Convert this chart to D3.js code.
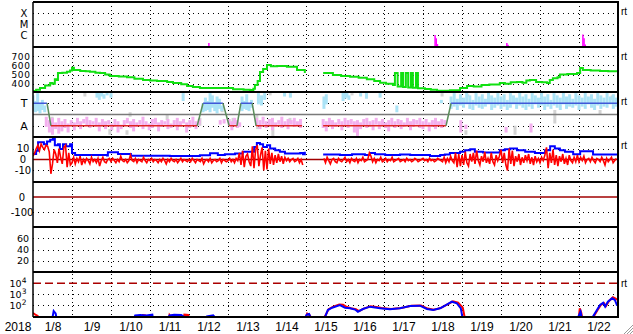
<!DOCTYPE html>
<html>
<head>
<meta charset="utf-8">
<title>Space weather overview</title>
<script src="https://cdn.jsdelivr.net/npm/d3@7"></script>
<style>
    body { margin: 0; background: #fff; }
    svg { display: block; font-family: "Liberation Sans", Arial, Helvetica, sans-serif; }
</style>
</head>
<body>
<svg id="chart" width="633" height="334"></svg>
<script>
// Time is given in days of January 2018 (8.5 = 1/8 12:00 UT)

// Tick labels
const dateLabels = ["1/8", "1/9", "1/10", "1/11", "1/12", "1/13", "1/14", "1/15",
    "1/16", "1/17", "1/18", "1/19", "1/20", "1/21", "1/22"];
const yearLabel = "2018";
const flareTicks = [1e-4, 1e-5, 1e-6];
const flareLabels = ["X", "M", "C"];
const speedTicks = [700, 600, 500, 400];
const sectorTicks = [1, -1];
const sectorLabels = ["T", "A"];
const bzTicks = [10, 0, -10];
const dstTicks = [0, -100];
const kpTicks = [60, 40, 20];
const fluxTicks = [1e4, 1e3, 1e2];

// X-ray flares: time, peak flux (W/m2)
const flareDays = [12.51, 18.31, 18.34, 18.37, 20.15, 20.18, 22.10, 22.13, 22.16];
const flareFlux = [1.9e-7, 1.0e-6, 5e-7, 1.5e-7, 1.9e-7, 1.3e-7, 1.1e-6, 5e-7, 1.4e-7];

// Solar wind speed (km/s)
const windSpeed = [
    [8.00, 320], [8.08, 335], [8.18, 354], [8.31, 380], [8.44, 408], [8.50, 400], [8.56, 450],
    [8.60, 440], [8.64, 517], [8.75, 520], [8.87, 530], [8.95, 545], [9.00, 575], [9.05, 550],
    [9.21, 540], [9.35, 535], [9.46, 530], [9.60, 520], [9.72, 517], [9.85, 500], [9.97, 485],
    [10.20, 478], [10.41, 470], [10.60, 455], [10.82, 440], [11.00, 435], [11.18, 430],
    [11.44, 420], [11.59, 408], [11.80, 395], [11.95, 375], [12.10, 365], [12.28, 354],
    [12.72, 354], [13.13, 340], [13.40, 335], [13.56, 332], [13.65, 345], [13.69, 386],
    [13.76, 430], [13.82, 528], [13.90, 560], [14.00, 604], [14.10, 590], [14.26, 593],
    [14.51, 585], [14.77, 550], [14.97, 517], [14.98, null],
    [15.44, 517], [15.69, 495], [15.90, 485], [16.13, 477], [16.35, 465], [16.56, 450],
    [16.75, 430], [16.90, 411], [17.05, 400], [17.23, 386], [17.28, 386], [17.28, 517],
    [17.35, 517], [17.35, 370], [17.44, 370], [17.44, 517], [17.49, 517], [17.49, 365],
    [17.56, 365], [17.56, 517], [17.62, 517], [17.62, 360], [17.69, 360], [17.69, 517],
    [17.74, 517], [17.74, 355], [17.82, 355], [17.82, 517], [17.87, 517], [17.87, 350],
    [17.92, 350], [18.05, 343], [18.20, 335], [18.36, 324], [18.69, 328], [18.95, 354],
    [19.13, 375], [19.30, 370], [19.50, 385], [19.70, 392], [19.97, 408], [20.10, 400],
    [20.25, 415], [20.41, 420], [20.55, 410], [20.65, 435], [20.74, 440], [20.90, 420],
    [21.05, 415], [21.18, 408], [21.25, 440], [21.33, 460], [21.45, 470], [21.51, 500],
    [21.70, 505], [21.95, 517], [22.03, 570], [22.10, 550], [22.30, 545], [22.54, 540],
    [22.75, 535], [22.97, 530]
];

// IMF sector: +1 toward, -1 away (null = no data)
const sectorLine = [
    [8.00, 1], [8.36, 1], [8.46, -1], [12.21, -1], [12.36, 1], [12.87, 1], [13.03, -1],
    [13.23, -1], [13.33, 1], [13.62, 1], [13.72, -1], [14.90, -1], null,
    [15.44, -1], [18.59, -1], [18.72, 1], [23.00, 1]
];

// IMF phi samples, grouped in short runs: [day, top, bottom] in sector units
const phiToward = [
    [8.00, 1.7, 0.3], [8.06, 1.2, 0.2], [8.12, 1.9, 0.3], [8.18, 1.0, 0.1], [8.24, 1.3, 0.4],
    [8.30, 0.8, 0.2], [9.64, 2.0, 1.5], [9.70, 1.9, 1.3], [9.76, 2.0, 1.6], [9.82, 1.8, 1.4],
    [9.90, 2.0, 1.7], [10.00, 1.9, 1.5], [11.85, 1.9, 1.2],
    [12.36, 1.0, 0.2], [12.42, 1.5, 0.3], [12.48, 1.2, 0.4], [12.54, 1.9, 0.2], [12.60, 1.7, 0.6],
    [12.66, 1.1, 0.3], [12.72, 1.6, 0.1], [12.78, 1.4, 0.5], [12.84, 0.8, 0.3],
    [13.36, 1.6, 0.3], [13.42, 1.2, 0.5], [13.48, 1.8, 0.4], [13.54, 1.0, 0.3], [13.60, 1.3, 0.6],
    [13.78, 1.9, 0.9], [13.86, 1.7, 0.8], [13.94, 1.9, 1.3], [14.45, 2.0, 1.6], [14.60, 1.9, 1.5],
    [15.46, 1.6, 0.5], [15.52, 1.8, 0.9], [15.95, 2.0, 1.2], [16.00, 1.9, 1.4], [16.05, 2.0, 1.5],
    [16.10, 1.7, 1.3], [16.40, 1.9, 1.6], [16.55, 2.0, 1.4], [16.90, 1.9, 1.5], [17.33, 0.8, 0.2],
    [18.47, 1.3, 1.0],
    [18.72, 1.6, 0.5], [18.80, 1.9, 0.7], [18.88, 1.4, 0.4], [18.96, 1.8, 0.8], [19.04, 1.5, 0.6],
    [19.12, 2.0, 0.9], [19.20, 1.7, 0.5], [19.28, 1.3, 0.4], [19.36, 1.9, 0.8], [19.44, 1.6, 0.6],
    [19.52, 1.8, 0.5], [19.60, 1.4, 0.7], [19.68, 2.0, 0.9], [19.76, 1.7, 0.4], [19.84, 1.5, 0.6],
    [19.92, 1.9, 0.8], [20.00, 1.6, 0.5], [20.08, 1.8, 0.7], [20.16, 1.3, 0.4], [20.24, 1.9, 0.6],
    [20.32, 1.7, 0.9], [20.40, 1.5, 0.5], [20.48, 2.0, 0.8], [20.56, 1.6, 0.6], [20.64, 1.8, 0.4],
    [20.72, 1.4, 0.7], [20.80, 1.9, 0.5], [20.88, 1.7, 0.9], [20.96, 1.5, 0.6], [21.04, 2.0, 0.8],
    [21.12, 1.6, 0.4], [21.20, 1.8, 0.7], [21.28, 1.3, 0.5], [21.36, 1.9, 0.8], [21.44, 1.7, 0.6],
    [21.52, 1.5, 0.4], [21.60, 2.0, 0.9], [21.68, 1.6, 0.5], [21.76, 1.8, 0.7], [21.84, 1.4, 0.6],
    [21.92, 1.9, 0.8], [22.00, 1.7, 0.4], [22.08, 1.5, 0.7], [22.16, 2.0, 0.5], [22.24, 1.6, 0.9],
    [22.32, 1.8, 0.6], [22.40, 1.4, 0.4], [22.48, 1.9, 0.8], [22.56, 1.7, 0.5], [22.64, 1.5, 0.7],
    [22.72, 2.0, 0.6], [22.80, 1.6, 0.9], [22.88, 1.8, 0.5], [22.96, 1.5, 0.7]
];
const phiAway = [
    [8.34, -0.2, -1.1], [8.42, -0.5, -1.6], [8.50, -0.3, -1.8], [8.58, -0.7, -1.3], [8.66, -0.3, -1.7],
    [8.74, -0.6, -1.5], [8.82, -0.4, -1.2], [8.90, -0.8, -1.6], [8.98, -0.5, -1.0], [9.06, -0.7, -1.4],
    [9.14, -0.3, -0.9], [9.22, -0.6, -1.3], [9.30, -0.4, -0.8], [9.38, -0.2, -1.0], [9.46, -0.5, -1.2],
    [9.54, -0.6, -0.9], [9.62, -0.3, -1.1], [9.70, -0.7, -1.5], [9.78, -0.4, -1.0], [9.86, -0.6, -1.3],
    [9.94, -0.5, -0.9], [10.02, -0.8, -1.4], [10.10, -0.4, -1.1], [10.18, -0.6, -1.6], [10.26, -0.9, -1.3],
    [10.34, -0.5, -1.0], [10.42, -0.3, -0.8], [10.50, -0.6, -1.2], [10.58, -0.4, -1.5], [10.66, -0.7, -1.1],
    [10.74, -0.5, -0.9], [10.82, -0.2, -1.3], [10.90, -0.6, -1.0], [10.98, -0.8, -1.4], [11.06, -0.4, -1.2],
    [11.14, -0.3, -0.9], [11.22, -0.7, -1.5], [11.30, -0.5, -1.1], [11.38, -0.6, -0.9], [11.46, -0.4, -1.3],
    [11.54, -0.8, -1.2], [11.62, -0.5, -1.0], [11.70, -0.3, -1.4], [11.78, -0.6, -1.1], [11.86, -0.4, -0.8],
    [11.94, -0.7, -1.6], [12.02, -0.5, -1.2], [12.10, -0.2, -1.0], [12.18, -0.6, -1.3], [12.26, -0.4, -0.9],
    [12.80, -0.5, -0.9], [12.90, -0.4, -0.8],
    [13.03, -0.4, -1.0], [13.10, -0.6, -1.4], [13.17, -0.3, -0.9], [13.24, -0.5, -1.2], [13.30, -0.7, -1.1],
    [13.74, -0.3, -1.0], [13.82, -0.5, -1.3], [13.90, -0.2, -0.9], [13.98, -0.6, -1.2], [14.06, -0.4, -1.0],
    [14.14, -0.3, -1.4], [14.22, -0.7, -1.1], [14.30, -0.5, -0.9], [14.38, -0.2, -1.2], [14.46, -0.6, -1.0],
    [14.54, -0.4, -1.3], [14.62, -0.5, -0.9], [14.70, -0.3, -1.1], [14.78, -0.6, -1.0], [14.86, -0.4, -1.2],
    [15.44, -0.4, -1.2], [15.52, -0.6, -1.5], [15.60, -0.3, -1.0], [15.68, -0.5, -1.3], [15.76, -0.7, -1.1],
    [15.84, -0.4, -0.9], [15.92, -0.6, -1.4], [16.00, -0.3, -1.0], [16.08, -0.5, -1.2], [16.16, -0.4, -0.9],
    [16.24, -0.6, -1.6], [16.32, -0.5, -1.9], [16.40, -0.7, -1.3], [16.48, -0.4, -1.0], [16.56, -0.3, -1.2],
    [16.64, -0.6, -1.1], [16.72, -0.5, -1.4], [16.80, -0.3, -0.9], [16.88, -0.6, -1.3], [16.96, -0.4, -1.0],
    [17.04, -0.7, -1.2], [17.12, -0.5, -1.5], [17.20, -0.3, -1.0], [17.28, -0.6, -1.2], [17.36, -0.4, -0.9],
    [17.44, -0.5, -1.3], [17.52, -0.7, -1.1], [17.60, -0.3, -1.0], [17.68, -0.6, -1.4], [17.76, -0.4, -1.1],
    [17.84, -0.5, -0.9], [17.92, -0.3, -1.2], [18.00, -0.6, -1.3], [18.08, -0.4, -1.0], [18.16, -0.7, -1.5],
    [18.24, -0.5, -1.1], [18.32, -0.3, -1.3], [18.40, -0.6, -1.0], [18.48, -0.4, -1.2], [18.56, -0.5, -0.9],
    [18.97, -0.5, -1.6], [19.10, -0.9, -1.3], [20.13, -1.1, -1.6], [20.77, -0.8, -1.6]
];
const phiOther = [
    [8.49, -0.2, -0.5], [9.33, 2.0, 1.6], [9.97, -1.3, -1.8], [10.41, -1.4, -1.8], [10.49, 0.2, -0.2],
    [11.44, 0.0, -0.5], [12.28, -0.3, -1.0], [12.85, 0.7, 0.2], [13.13, -0.3, -0.9], [13.74, 0.0, -0.3],
    [13.76, -1.1, -1.3], [14.08, 2.0, 1.7], [14.15, -1.1, -2.0], [14.59, -0.3, -0.8], [16.00, 2.0, 1.7],
    [16.18, 1.9, 1.7], [16.31, -0.9, -1.6], [17.41, -0.7, -0.9], [18.49, 1.9, 1.6], [19.10, -1.4, -1.8],
    [19.15, 1.8, 1.6], [20.36, -1.0, -1.8], [21.38, 0.4, -0.8], [22.54, 0.4, 0.0], [22.85, 1.7, 1.3]
];

// IMF total field Bt (nT)
const bt = [
    [8.00, 5], [8.08, 8], [8.13, 15.7], [8.28, 14], [8.36, 16.5], [8.44, 18], [8.51, 19], [8.56, 13],
    [8.64, 14], [8.69, 9.6], [8.77, 14], [8.85, 12], [8.95, 14], [9.00, 6], [9.08, 4], [9.90, 3.6],
    [9.92, 6.6], [10.15, 6.6], [10.18, 5], [10.49, 5], [10.51, 3.5], [11.51, 3.3], [12.28, 3.8],
    [12.54, 5.7], [12.72, 5.7], [12.74, 4], [12.92, 4.8], [13.18, 5.5], [13.38, 7], [13.56, 7],
    [13.67, 11.5], [13.74, 15], [13.82, 14], [13.90, 11.5], [14.00, 13], [14.08, 10], [14.21, 8.5],
    [14.33, 7], [14.46, 5.5], [14.85, 6], [14.92, 4.8], [14.97, 7], [14.99, null],
    [15.44, 4.5], [15.87, 4], [16.18, 4.8], [16.51, 4], [16.64, 6], [16.77, 4.8], [17.03, 4],
    [17.41, 4.5], [17.67, 4], [18.18, 3.3], [18.44, 4], [18.56, 4.5], [18.69, 6], [18.82, 6],
    [18.95, 7], [19.08, 8.5], [19.21, 9.4], [19.33, 7], [19.54, 6.4], [19.85, 6.4], [19.97, 8.5],
    [20.10, 9.4], [20.23, 10], [20.41, 8.5], [20.62, 7], [20.87, 6], [21.13, 8.5], [21.26, 12],
    [21.38, 10], [21.51, 8.5], [21.64, 7], [21.85, 4.8], [22.03, 7.5], [22.15, 7.5], [22.36, 4.5],
    [22.67, 4.5], [23.00, 4.5]
];

// IMF Bz (nT), hourly samples from 1/8 00:00, one row per day
const bzStartDay = 8;
const bzStepHours = 1;
const bz = [
    3, 6, 10, 13, 8, 14, 11, 9, 13, 12, 7, -13, -4, 9, 5, -3, 10, 2, -4, 11, 13, -7, 6, -5,
    -3, 2, -4, 1, -2, 3, -5, 0, -3, 1, -1, -4, 2, -2, 0, -3, 1, -6, -1, 2, -2, -3, 0, 1,
    -2, 1, -1, -3, 0, -2, 3, -1, -2, 0, -3, -1, 4, -1, -2, 1, -3, 0, -1, -2, 2, -1, -3, 0,
    -1, 1, -2, 0, -1, -3, 0, -2, 1, -1, -4, 0, -2, 1, -1, -2, 0, -3, -1, 1, -2, 0, -1, -2,
    0, -2, 1, -1, -3, 0, -1, -2, 1, -4, -1, 0, -2, 1, -3, -1, 0, -2, -1, 1, -3, 0, -1, -2,
    -1, 1, -2, 0, -3, 1, -1, 6, -5, 8, -7, 3, 5, -2, -6, 12, -8, 9, 13, -6, 4, 11, -10, 8,
    -9, 10, -4, 6, -5, 4, -3, 5, -2, 3, -4, 2, -1, 1, -2, 0, 1, -2, -1, 1, -3, 0, -5, null,
    null, null, null, null, null, null, null, null, null, null, null, 1, -3, 2, -1, -4, 0, 1, -2, -3, 1, -1, -2, 0,
    2, -2, 0, -3, 1, -1, -2, 1, -3, 0, -1, 2, -2, -1, 0, 6, 3, -2, 1, -3, 0, -1, 2, -2,
    -1, 1, -2, 0, -1, 2, -2, -1, 0, 1, -2, -1, 0, -2, 1, -1, 0, -2, -1, 1, 0, -2, -1, 0,
    1, -1, 0, -2, 1, -1, 0, -2, -1, 1, 0, -1, -2, 2, -3, 1, -2, 3, -1, -3, 6, -7, 5, -6,
    4, -5, 7, -3, -6, 5, -2, 6, -4, 8, -1, -5, 3, -2, 7, -3, 1, -4, 6, -2, -5, 4, -1, 3,
    9, -3, 6, -5, -10, 10, -4, 8, -6, 3, -2, 5, -5, 2, -3, 4, -1, 5, -4, 2, -5, 3, -2, 1,
    -3, 2, -1, 4, 11, -8, 6, -3, 9, -5, 4, -6, 3, -2, 5, -4, 1, -5, 4, -1, -3, 2, -2, 4,
    -2, 2, -1, 3, -3, 0, 1, -2, 2, -1, -3, 1, 0, -2, 2, -1, -5, 1, -2, 0, 2, -3, -1, 1
];

// Particle flux, two channels (values under ~9 fall below the panel)
const fluxBlue = [
    [8.00, 5], [8.49, 5], [8.53, 30], [8.58, 18], [8.61, 5], [10.58, 5], [10.62, 12], [10.75, 13],
    [10.90, 12], [11.06, 14], [11.08, 5], [11.45, 5], [11.50, 12], [11.62, 14], [11.80, 13],
    [11.98, 5], [12.42, 5], [12.46, 10], [12.62, 12], [12.72, 5], [14.95, 5], [15.02, 14],
    [15.08, 16], [15.14, 5], [15.40, 5], [15.49, 9], [15.56, 37], [15.67, 60], [15.87, 106],
    [16.00, 60], [16.13, 53], [16.26, 41], [16.33, 26], [16.46, 46], [16.64, 75], [16.77, 63],
    [16.90, 53], [17.15, 43], [17.41, 53], [17.67, 86], [17.92, 92], [18.10, 46], [18.26, 37],
    [18.44, 53], [18.62, 123], [18.74, 212], [18.87, 152], [18.97, 53], [19.02, 5], [21.95, 5],
    [22.04, 26], [22.08, 5], [22.31, 5], [22.46, 37], [22.54, 106], [22.62, 172], [22.67, 75],
    [22.74, 212], [22.85, 433], [22.92, 303], [22.97, 106], [23.00, 100]
];
const fluxRed = [
    [8.00, 20], [8.05, 15], [8.12, 11], [8.15, 5], [10.80, 5], [10.82, 13], [10.88, 12], [10.90, 5],
    [11.48, 5], [11.50, 13], [11.58, 5], [11.85, 5], [11.88, 14], [11.98, 13], [12.02, 5],
    [14.97, 5], [15.03, 18], [15.10, 12], [15.15, 5], [15.42, 5], [15.50, 12], [15.58, 45],
    [15.70, 75], [15.85, 120], [15.95, 110], [16.05, 70], [16.15, 55], [16.28, 45], [16.36, 30],
    [16.48, 50], [16.66, 80], [16.80, 70], [16.94, 58], [17.18, 45], [17.44, 58], [17.70, 92],
    [17.95, 95], [18.12, 50], [18.28, 40], [18.46, 58], [18.64, 130], [18.77, 230], [18.90, 170],
    [19.02, 60], [19.08, 5], [21.99, 5], [22.02, 53], [22.06, 20], [22.09, 5], [22.33, 5],
    [22.48, 40], [22.56, 110], [22.64, 160], [22.69, 85], [22.77, 250], [22.87, 535],
    [22.94, 400], [23.00, 300]
];

// Layout
const left = 33, right = 618;
const panelTops = [2, 47, 92, 137, 182, 227, 272];
const panelH = 45;
const bottom = panelTops[6] + panelH;

const svg = d3.select("#chart");
const x = d3.scaleLinear().domain([8, 23]).range([left, right]);

function panelScale(i, domain, log) {
    const s = log ? d3.scaleLog() : d3.scaleLinear();
    return s.domain(domain).range([panelTops[i] + panelH, panelTops[i]]);
}

const yFlare = panelScale(0, [8.1e-8, 1e-3], true);
const ySpeed = panelScale(1, [310, 800]);
const ySector = panelScale(2, [-2, 2]);
const yBz = panelScale(3, [-20.5, 20.5]);
const yDst = panelScale(4, [-200, 100]);
const yKp = panelScale(5, [0, 80]);
const yFlux = panelScale(6, [Math.pow(10, 0.936), Math.pow(10, 5.027)], true);

// Clip paths, one per panel
const defs = svg.append("defs");
panelTops.forEach((t, i) => {
    defs.append("clipPath").attr("id", "clip" + i)
        .append("rect")
        .attr("x", left).attr("y", t)
        .attr("width", right - left).attr("height", panelH);
});
const layer = i => svg.append("g").attr("clip-path", `url(#clip${i})`);

// Dotted grid
function hGrid(scale, values) {
    svg.append("g").selectAll("line").data(values).join("line")
        .attr("x1", left).attr("x2", right)
        .attr("y1", d => Math.round(scale(d)) + 0.5)
        .attr("y2", d => Math.round(scale(d)) + 0.5)
        .attr("stroke", "#000")
        .attr("stroke-dasharray", "1,4")
        .attr("shape-rendering", "crispEdges");
}

svg.append("g").selectAll("line").data(d3.range(9, 23)).join("line")
    .attr("x1", d => Math.round(x(d)) + 0.5).attr("x2", d => Math.round(x(d)) + 0.5)
    .attr("y1", panelTops[0]).attr("y2", bottom)
    .attr("stroke", "#000")
    .attr("stroke-dasharray", "1,3")
    .attr("shape-rendering", "crispEdges");

hGrid(yFlare, flareTicks);
hGrid(ySpeed, speedTicks);
hGrid(ySector, sectorTicks);
hGrid(yBz, [10, -10]);
hGrid(yDst, [-100]);
hGrid(yKp, kpTicks);
hGrid(yFlux, [1e3, 1e2]);

// Panel 1: X-ray flares
layer(0).selectAll("line").data(flareDays).join("line")
    .attr("x1", d => x(d)).attr("x2", d => x(d))
    .attr("y1", panelTops[0] + panelH)
    .attr("y2", (d, i) => yFlare(flareFlux[i]))
    .attr("stroke", "#ff00ff")
    .attr("stroke-width", 1.5);

// Panel 2: solar wind speed
layer(1).append("path")
    .datum(windSpeed)
    .attr("d", d3.line()
        .defined(d => d[1] !== null)
        .x(d => x(d[0])).y(d => ySpeed(d[1]))
        .curve(d3.curveStepAfter))
    .attr("fill", "none")
    .attr("stroke", "#11e011")
    .attr("stroke-width", 2);

// Panel 3: IMF sector
const sectorG = layer(2);
function streaks(data, color) {
    sectorG.append("g").selectAll("rect").data(data).join("rect")
        .attr("x", d => x(d[0]) - 1.5)
        .attr("width", 3)
        .attr("y", d => ySector(d[1]))
        .attr("height", d => ySector(d[2]) - ySector(d[1]))
        .attr("fill", color);
}
streaks(phiOther, "#d4d4d4");
streaks(phiToward, "#abe3f6");
streaks(phiAway, "#f3b0ee");

sectorG.append("line")
    .attr("x1", left).attr("x2", right)
    .attr("y1", ySector(0)).attr("y2", ySector(0))
    .attr("stroke", "#7a7a7a").attr("stroke-width", 1.5);

const sectorPairs = d3.pairs(sectorLine).filter(p => p[0] && p[1]);
sectorG.selectAll(".seg").data(sectorPairs).join("line")
    .attr("class", "seg")
    .attr("x1", p => x(p[0][0])).attr("y1", p => ySector(p[0][1]))
    .attr("x2", p => x(p[1][0])).attr("y2", p => ySector(p[1][1]))
    .attr("stroke", p => p[0][1] !== p[1][1] ? "#5b8d5b" : (p[0][1] > 0 ? "#4058d8" : "#e02424"))
    .attr("stroke-width", 1.5);

// Panel 4: Bt and Bz
const bzG = layer(3);
bzG.append("line")
    .attr("x1", left).attr("x2", right)
    .attr("y1", yBz(0)).attr("y2", yBz(0))
    .attr("stroke", "#a00000").attr("stroke-width", 1.5);

bzG.append("path")
    .datum(bt)
    .attr("d", d3.line()
        .defined(d => d[1] !== null)
        .x(d => x(d[0])).y(d => yBz(d[1]))
        .curve(d3.curveStepAfter))
    .attr("fill", "none")
    .attr("stroke", "#0000ff")
    .attr("stroke-width", 2);

bzG.append("path")
    .datum(bz.map((v, i) => [bzStartDay + i * bzStepHours / 24, v]))
    .attr("d", d3.line()
        .defined(d => d[1] !== null)
        .x(d => x(d[0])).y(d => yBz(d[1])))
    .attr("fill", "none")
    .attr("stroke", "#ff0000")
    .attr("stroke-width", 1.6);

// Panel 5: Dst zero line
layer(4).append("line")
    .attr("x1", left).attr("x2", right)
    .attr("y1", yDst(0)).attr("y2", yDst(0))
    .attr("stroke", "#a00000").attr("stroke-width", 1.5);

// Panel 7: particle flux
const fluxG = layer(6);
fluxG.append("line")
    .attr("x1", left).attr("x2", right)
    .attr("y1", yFlux(1e4)).attr("y2", yFlux(1e4))
    .attr("stroke", "#aa0000").attr("stroke-width", 1.5)
    .attr("stroke-dasharray", "8,4");

const fluxLine = d3.line().x(d => x(d[0])).y(d => yFlux(d[1]));
fluxG.append("path").datum(fluxRed)
    .attr("d", fluxLine)
    .attr("fill", "none").attr("stroke", "#ff0000").attr("stroke-width", 2);
fluxG.append("path").datum(fluxBlue)
    .attr("d", fluxLine)
    .attr("fill", "none").attr("stroke", "#0000ff").attr("stroke-width", 2);

// Panel borders
svg.append("g").selectAll("line").data(panelTops.concat([bottom])).join("line")
    .attr("x1", left).attr("x2", right + 1)
    .attr("y1", d => d).attr("y2", d => d)
    .attr("stroke", "#000").attr("stroke-width", 2);
svg.append("line")
    .attr("x1", left).attr("x2", left)
    .attr("y1", panelTops[0]).attr("y2", bottom)
    .attr("stroke", "#000").attr("stroke-width", 1.5);
svg.append("line")
    .attr("x1", right).attr("x2", right)
    .attr("y1", panelTops[0]).attr("y2", bottom)
    .attr("stroke", "#000").attr("stroke-width", 2);

// Left axes
function leftAxis(scale, values, format, centerX, size) {
    const g = svg.append("g")
        .attr("transform", `translate(${left},0)`)
        .call(d3.axisLeft(scale).tickValues(values).tickSize(0).tickPadding(0).tickFormat(format));
    g.select(".domain").remove();
    g.attr("font-size", size).attr("font-family", "'DejaVu Sans', sans-serif");
    g.selectAll("text")
        .attr("text-anchor", "middle")
        .attr("x", centerX - left)
        .attr("fill", "#000");
    return g;
}
leftAxis(yFlare, flareTicks, (d, i) => flareLabels[i], 24, 10);
leftAxis(ySpeed, speedTicks, d => d, 21, 9)
    .selectAll("text").attr("letter-spacing", 0.6);
leftAxis(ySector, sectorTicks, (d, i) => sectorLabels[i], 24, 11);
leftAxis(yBz, bzTicks, d => d, 23, 10);
leftAxis(yDst, dstTicks, d => d, 22, 10);
leftAxis(yKp, kpTicks, d => d, 23, 9.5);
leftAxis(yFlux, fluxTicks, () => "", 18, 9.5)
    .selectAll("text").each(function (d) {
        const t = d3.select(this);
        t.text("10");
        t.append("tspan").attr("dy", "-0.45em").attr("font-size", 7.5).text(Math.round(Math.log10(d)));
    });

// Bottom date labels at noon of each day
const xAxis = svg.append("g")
    .attr("transform", `translate(0,${bottom})`)
    .call(d3.axisBottom(x)
        .tickValues(d3.range(8.5, 23, 1))
        .tickSize(0).tickPadding(5)
        .tickFormat((d, i) => dateLabels[i]));
xAxis.select(".domain").remove();
xAxis.attr("font-size", 12).attr("font-family", null);
xAxis.selectAll("text").attr("fill", "#000");

svg.append("text")
    .attr("x", 18).attr("y", bottom + 5)
    .attr("dy", "0.71em")
    .attr("text-anchor", "middle")
    .attr("font-size", 12)
    .text(yearLabel);

// "rt" marks on the right
const rtY = [panelTops[0] + 13, panelTops[1] + 13, panelTops[2] + 13, panelTops[3] + 12, yFlux(1e4) + 4];
svg.append("g").selectAll("text").data(rtY).join("text")
    .attr("x", 621).attr("y", d => d)
    .attr("font-size", 10)
    .text("rt");

// Resize grip in the corner
svg.append("g").selectAll("line").data([0, 3, 6]).join("line")
    .attr("x1", d => 624 + d).attr("y1", 334)
    .attr("x2", 633).attr("y2", d => 325 + d)
    .attr("stroke", "#9a9a9a").attr("stroke-width", 1);
</script>
</body>
</html>
